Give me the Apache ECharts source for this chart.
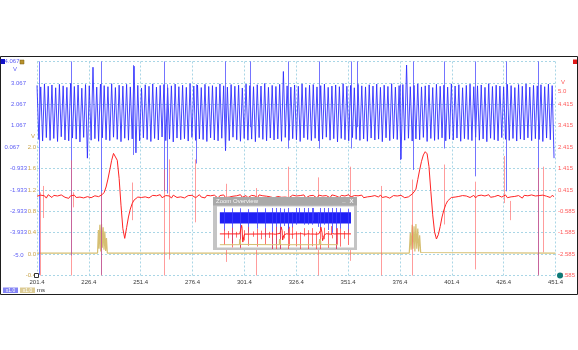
<!DOCTYPE html>
<html>
<head>
<meta charset="utf-8">
<script src="https://cdn.jsdelivr.net/npm/echarts@6/dist/echarts.min.js"></script>
<style>
  html, body { margin: 0; padding: 0; background: #ffffff; }
  #scope { width: 578px; height: 350px; }
</style>
</head>
<body>
<div id="scope"></div>
<script>
// ---- axis ticks ----
const xTicks = [201.4, 226.4, 251.4, 276.4, 301.4, 326.4, 351.4, 376.4, 401.4, 426.4, 451.4];
const blueTicks = [4.067, 3.067, 2.067, 1.067, 0.067, -0.933, -1.933, -2.933, -3.933, -5.0];
const yellowTicks = [2.0, 1.6, 1.2, 0.8, 0.4, 0.0, -0.4];
const redTicks = [5.0, 4.415, 3.415, 2.415, 1.415, 0.415, -0.585, -1.585, -2.585, -3.585];

// ---- capture sampling (ms) ----
const sampleStart = 201.4;
const sampleStep = 0.9;

// ---- channel A (blue): crest and trough of each cycle, V ----
const blueHi = [
  2.95,2.88,3.02,2.91,2.97,2.84,3.00,2.93,2.86,3.04,
  2.90,2.97,2.82,2.99,2.93,3.80,2.87,3.01,2.94,2.89,
  3.03,2.85,2.96,2.92,3.00,2.88,3.85,2.95,2.83,2.98,
  2.91,3.02,2.87,2.95,2.99,2.84,2.93,3.01,2.89,2.96,
  2.86,3.03,2.92,2.97,2.85,3.00,2.90,2.94,2.88,3.02,
  2.93,2.87,2.99,2.91,2.96,2.83,3.01,2.94,2.89,2.98,
  2.92,3.04,2.86,2.95,2.90,3.00,3.60,2.93,2.87,2.97,
  2.91,3.02,2.85,2.96,2.99,2.88,2.94,3.01,2.86,2.92,
  2.97,2.89,3.03,2.91,2.95,2.84,3.00,2.93,2.88,2.98,
  2.92,3.01,2.86,2.96,2.90,3.03,2.87,2.94,2.99,3.90,
  2.89,2.95,3.02,2.88,2.93,2.97,2.85,3.00,2.91,2.96,
  2.87,3.02,2.92,2.98,2.84,2.95,3.01,2.89,2.93,2.97,
  2.86,3.03,2.90,2.96,2.92,2.88,3.00,2.94,2.85,2.99,
  2.91,3.02,2.87,2.95,2.93,2.98,2.89,3.01,2.94
];
const blueLo = [
  0.42,0.35,0.51,0.38,0.47,0.33,0.55,0.40,0.36,0.49,
  0.44,0.31,0.52,-0.45,0.39,0.46,0.34,0.50,0.41,0.37,
  0.53,0.43,0.32,0.48,0.39,0.45,-0.20,0.36,0.50,0.42,
  0.33,0.47,0.40,0.54,0.37,0.44,0.31,0.49,0.41,0.46,
  0.35,0.52,0.38,0.45,0.42,0.33,0.50,0.40,0.36,0.48,
  -0.10,0.37,0.53,0.41,0.34,0.47,0.39,0.44,0.32,0.51,
  0.43,0.36,0.49,0.40,0.45,0.34,0.52,0.38,0.46,0.41,
  0.33,0.50,0.42,0.37,0.48,0.35,0.44,0.53,0.39,0.46,
  0.31,0.47,0.41,0.36,0.51,0.43,0.38,0.45,0.34,0.49,
  0.40,0.44,0.32,0.50,0.37,0.46,0.42,-0.50,0.39,0.48,
  0.35,0.45,0.41,0.52,0.33,0.47,0.38,0.43,0.50,0.36,
  0.44,0.40,0.49,0.34,0.46,0.42,0.37,0.53,0.39,0.45,
  0.32,0.48,0.41,0.36,0.51,0.43,0.38,0.47,0.35,0.44,
  0.40,0.50,0.37,0.46,0.42,0.33,0.49,0.41,-0.45
];
// channel A glitches: time (ms), low (V), high (V)
const blueSpikeT  = [202.6, 217.7, 232.1, 247.7, 262.7, 264.1, 278.0, 292.2, 303.9, 322.4, 337.4, 352.6, 355.5, 376.5, 382.9, 397.8, 412.6, 427.5, 442.8];
const blueSpikeLo = [-5.9, -5.0, -5.9, -0.3, -2.0, -2.1, -0.7, 0.0, 1.0, 0.0, 0.0, 0.0, 1.0, -0.54, -1.0, 0.0, -1.3, -2.0, -5.9];
const blueSpikeHi = [4.07, 4.07, 4.07, 3.9, 4.07, 3.0, 3.0, 4.07, 4.07, 4.07, 4.07, 4.07, 4.07, 3.0, 4.07, 4.07, 4.07, 4.07, 4.07];

// ---- channel B (red), V per sample ----
const redV = [
  0.12,0.05,0.17,0.08,0.14,0.03,0.19,0.10,0.06,0.16,0.09,0.13,0.04,0.18,0.11,0.07,0.15,0.02,0.14,0.09,
  0.17,0.06,0.12,0.08,0.16,0.04,0.13,0.10,0.18,0.05,0.11,0.14,0.07,
  0.10,0.14,0.20,0.30,0.55,0.92,1.35,1.80,2.12,2.18,1.80,0.95,-0.30,-1.40,-1.85,-1.35,-0.85,-0.48,-0.22,-0.06,0.02,0.08,
  0.15,0.06,0.13,0.09,0.17,0.04,0.12,0.16,0.07,0.14,0.10,0.19,0.05,0.11,0.15,0.08,0.13,0.03,0.17,0.10,
  0.06,0.14,0.09,0.18,0.04,0.12,0.15,0.07,0.16,0.11,0.05,0.13,0.19,0.08,0.12,0.04,0.16,0.10,0.14,0.07,
  0.17,0.09,0.03,0.15,0.11,0.18,0.06,0.13,0.08,0.16,0.12,0.04,0.14,0.10,0.19,0.07,0.12,0.15,0.05,0.11,
  0.16,0.08,0.13,0.03,0.18,0.10,0.14,0.06,0.12,0.17,0.09,0.15,0.04,0.13,0.11,0.19,0.07,0.14,0.08,0.16,
  0.05,0.12,0.17,0.10,0.13,0.06,0.15,0.09,0.18,0.04,0.11,0.14,0.08,0.16,0.12,0.03,0.17,0.10,0.13,0.07,
  0.15,0.11,0.05,0.18,0.09,0.14,0.12,0.06,0.16,0.10,0.13,0.04,0.19,0.08,0.12,0.15,0.07,0.14,0.10,0.17,
  0.05,0.13,0.09,0.16,0.11,0.04,0.15,0.12,0.08,0.18,0.06,0.14,0.10,0.17,0.03,0.12,0.15,0.09,0.13,0.07,0.16,0.11,0.05,0.14,0.09,
  0.12,0.22,0.32,0.45,0.90,1.35,1.75,2.05,2.20,2.10,1.50,0.35,-0.75,-1.55,-1.88,-1.68,-1.30,-0.85,-0.52,-0.27,-0.10,-0.02,0.06,
  0.14,0.08,0.17,0.11,0.05,0.15,0.09,0.13,0.18,0.06,0.12,0.16,0.04,0.14,0.10,0.17,0.08,0.13,0.11,0.19,
  0.07,0.15,0.10,0.04,0.16,0.12,0.08,0.14,0.18,0.05,0.13,0.09,0.17,0.11,0.06,0.15,0.12,0.03,0.16,0.10,
  0.14,0.07,0.18,0.09,0.13,0.05,0.15,0.11,0.17,0.08,0.12,0.14,0.06,0.16,0.10
];
// channel B glitches: time (ms), low (V), high (V)
const redSpikeT  = [202.7, 204.3, 217.7, 218.6, 232.2, 247.4, 262.7, 265.1, 277.5, 292.4, 307.2, 322.6, 337.0, 352.3, 367.1, 382.4, 397.8, 412.6, 426.5, 429.4, 442.8, 445.6];
const redSpikeLo = [-3.585, -0.9, -3.585, -0.4, -3.585, -1.0, -3.585, -2.84, -1.1, -2.95, -3.585, -0.5, -3.585, -2.9, -3.585, -3.585, -1.2, -3.3, -0.2, -1.0, -3.585, -2.5];
const redSpikeHi = [0.3, 0.6, 1.8, 0.3, 0.3, 0.76, 1.37, 1.84, 1.84, 0.7, 0.5, 1.5, 1.0, 1.5, 0.6, 0.9, 1.6, 0.8, 2.0, -0.1, 1.45, 1.5];

// ---- channel C (yellow) ----
const yellowT = [201.4,
  230.6,231.0,231.3,231.7,232.1,232.5,232.9,233.3,233.7,234.1,234.5,234.9,235.3,
  380.9,381.4,381.8,382.3,382.7,383.2,383.6,384.1,384.5,385.0,385.4,385.9,386.4,387.0,
  451.4];
const yellowV = [0.02,
  0.02,0.45,0.10,0.55,0.05,0.56,0.12,0.50,0.08,0.42,0.06,0.30,0.02,
  0.02,0.40,0.08,0.55,0.10,0.52,0.05,0.56,0.10,0.48,0.05,0.35,0.03,0.02,
  0.02];

// ---- overview: whole capture outside the zoomed window ----
const ovSpan = [0, 500];
const ovBlueBand = [7, 500, 0.3, 3.0];
const ovBlueSpikeT  = [23, 53, 84, 114, 145, 176, 458, 488];
const ovBlueSpikeLo = [-1.5, -4.5, -5.5, -2.0, -1.0, -3.0, -1.0, -2.0];
const ovBlueSpikeHi = [4.0, 4.0, 4.0, 3.8, 4.0, 4.0, 4.0, 3.9];
const ovRedEarlyT = [7, 81.5, 84.0, 86.5, 88.8, 90.5, 92.0, 93.2, 95.0, 97.0, 100.0, 201.0];
const ovRedEarlyV = [0.10, 0.10, 0.45, 1.40, 2.20, 1.50, -0.90, -1.90, -1.40, -0.50, 0.05, 0.10];
const ovRedLateT = [452.0, 500.0];
const ovRedLateV = [0.10, 0.10];
const ovRedSpikeT  = [22, 37, 53, 68, 84, 99, 114, 130, 145, 160, 176, 191, 458, 473, 488];
const ovRedSpikeLo = [-2.6, -1.0, -3.2, -0.8, -3.4, -1.5, -2.8, -0.6, -3.0, -1.2, -2.5, -0.9, -3.0, -1.1, -2.6];
const ovRedSpikeHi = [1.2, 0.8, 1.6, 0.6, 1.4, 1.0, 1.8, 0.7, 1.3, 0.9, 1.5, 0.6, 1.4, 0.8, 1.2];
const ovYellowEarlyT = [7, 80.5, 81.0, 81.5, 82.0, 82.5, 83.0, 83.5, 84.0, 84.5, 85.5, 201.0];
const ovYellowEarlyV = [0.02, 0.02, 0.45, 0.10, 0.55, 0.08, 0.50, 0.06, 0.40, 0.05, 0.02, 0.02];

// ---- build series tables ----
const blueData = [];
for (let k = 0; k < blueHi.length; k++) {
  blueData.push([sampleStart + 2 * k * sampleStep, blueHi[k]]);
  blueData.push([sampleStart + (2 * k + 1) * sampleStep, blueLo[k]]);
}
const redData = redV.map((v, i) => [sampleStart + i * sampleStep, v]);
const yellowData = yellowT.map((t, i) => [t, yellowV[i]]);
const zip3 = (a, b, c) => a.map((t, i) => [t, b[i], c[i]]);
const blueSpikes = zip3(blueSpikeT, blueSpikeLo, blueSpikeHi);
const redSpikes = zip3(redSpikeT, redSpikeLo, redSpikeHi);

const ovRedData = ovRedEarlyT.map((t, i) => [t, ovRedEarlyV[i]])
  .concat(redData, ovRedLateT.map((t, i) => [t, ovRedLateV[i]]));
const ovYellowData = ovYellowEarlyT.map((t, i) => [t, ovYellowEarlyV[i]]).concat(yellowData);
const ovBlueSpikes = zip3(ovBlueSpikeT, ovBlueSpikeLo, ovBlueSpikeHi).concat(blueSpikes);
const ovRedSpikes = zip3(ovRedSpikeT, ovRedSpikeLo, ovRedSpikeHi).concat(redSpikes);

const FONT = 'Liberation Sans';
const FS = 6;
const BLUE_TXT = '#5c5cf5';
const numText = v => (Number.isInteger(v) ? v.toFixed(1) : String(v));
// labels that sit beside a channel C label or the marker are nudged to the left
const blueLabel = v => {
  const s = numText(v);
  if (v === 0.067 || v === 4.067) return '{far|' + s + '}';
  return s;
};

function spikeRenderer(color) {
  return function (params, api) {
    const a = api.coord([api.value(0), api.value(1)]);
    const b = api.coord([api.value(0), api.value(2)]);
    const x = Math.round(a[0]) + 0.5;
    return {
      type: 'line',
      shape: { x1: x, y1: a[1], x2: x, y2: b[1] },
      style: { stroke: color, lineWidth: 1 }
    };
  };
}
function bandRenderer(color) {
  return function (params, api) {
    const a = api.coord([api.value(0), api.value(3)]);
    const b = api.coord([api.value(1), api.value(2)]);
    return {
      type: 'rect',
      shape: { x: a[0], y: a[1], width: b[0] - a[0], height: b[1] - a[1] },
      style: { fill: color }
    };
  };
}

const yBase = (grid, min, max, show) => ({
  type: 'value', gridIndex: grid, min: min, max: max,
  axisLine: { show: false }, axisTick: { show: false },
  splitLine: { show: false }, axisLabel: { show: show }
});

const chart = echarts.init(document.getElementById('scope'), null, { renderer: 'canvas' });

chart.setOption({
  animation: false,
  backgroundColor: '#ffffff',
  grid: [
    { left: 37, top: 61.5, width: 522, height: 214 },
    { left: 218, top: 208, width: 133, height: 41, z: 12 }
  ],
  xAxis: [
    {
      type: 'value', gridIndex: 0, min: xTicks[0], max: xTicks[xTicks.length - 1],
      axisLine: { show: false },
      axisTick: { show: false, customValues: xTicks },
      axisLabel: { customValues: xTicks, formatter: v => v.toFixed(1), color: '#3a3a3a',
        fontSize: FS, fontFamily: FONT, margin: 4 },
      splitLine: { show: true, lineStyle: { color: '#a9d6e6', type: [2, 2], width: 1 } }
    },
    {
      type: 'value', gridIndex: 1, min: ovSpan[0], max: ovSpan[1], show: false,
      splitLine: { show: false }
    }
  ],
  yAxis: [
    Object.assign(yBase(0, -5.933, 4.067, true), {
      position: 'left',
      axisLabel: { customValues: blueTicks, formatter: blueLabel, color: BLUE_TXT,
        fontSize: FS, fontFamily: FONT, margin: 18.5, align: 'center',
        rich: { far: { color: BLUE_TXT, fontSize: FS, fontFamily: FONT, padding: [0, 13, 0, 0] } } }
    }),
    Object.assign(yBase(0, -0.4, 3.6, true), {
      position: 'left', interval: 0.4,
      axisLabel: { customValues: yellowTicks, formatter: numText, color: '#c9a44a',
        fontSize: FS, fontFamily: FONT, margin: 1 },
      splitLine: { show: true, lineStyle: { color: '#a9d6e6', type: [2, 2], width: 1 } }
    }),
    Object.assign(yBase(0, -3.585, 6.415, true), {
      position: 'right',
      axisLabel: { customValues: redTicks, formatter: numText, color: '#ff5a5a',
        fontSize: FS, fontFamily: FONT, margin: 2.5 }
    }),
    Object.assign(yBase(1, -5.933, 4.067, false), { show: false }),
    Object.assign(yBase(1, -0.4, 3.6, false), { show: false }),
    Object.assign(yBase(1, -3.585, 6.415, false), { show: false })
  ],
  series: [
    // main view
    { name: 'C', type: 'line', xAxisIndex: 0, yAxisIndex: 1, data: yellowData, showSymbol: false,
      lineStyle: { color: '#d6bf72', width: 1.2 }, z: 2, silent: true },
    { name: 'A', type: 'line', xAxisIndex: 0, yAxisIndex: 0, data: blueData, showSymbol: false,
      lineStyle: { color: 'rgba(40,40,255,0.85)', width: 1 }, z: 3, silent: true },
    { name: 'A glitch', type: 'custom', xAxisIndex: 0, yAxisIndex: 0, data: blueSpikes,
      encode: { x: 0, y: [1, 2] }, renderItem: spikeRenderer('rgba(70,70,255,0.75)'), z: 4, silent: true },
    { name: 'B glitch', type: 'custom', xAxisIndex: 0, yAxisIndex: 2, data: redSpikes,
      encode: { x: 0, y: [1, 2] }, renderItem: spikeRenderer('rgba(255,90,90,0.6)'), z: 5, silent: true },
    { name: 'B', type: 'line', xAxisIndex: 0, yAxisIndex: 2, data: redData, showSymbol: false,
      lineStyle: { color: '#ff2424', width: 1 }, z: 6, silent: true },

    // overview
    { name: 'ov A', type: 'custom', xAxisIndex: 1, yAxisIndex: 3, data: [ovBlueBand],
      encode: { x: [0, 1], y: [2, 3] }, renderItem: bandRenderer('#1f1ff5'), z: 21, silent: true },
    { name: 'ov A glitch', type: 'custom', xAxisIndex: 1, yAxisIndex: 3, data: ovBlueSpikes,
      encode: { x: 0, y: [1, 2] }, renderItem: spikeRenderer('rgba(60,60,255,0.8)'), z: 22, silent: true },
    { name: 'ov B glitch', type: 'custom', xAxisIndex: 1, yAxisIndex: 5, data: ovRedSpikes,
      encode: { x: 0, y: [1, 2] }, renderItem: spikeRenderer('rgba(255,60,60,0.75)'), z: 23, silent: true },
    { name: 'ov B', type: 'line', xAxisIndex: 1, yAxisIndex: 5, data: ovRedData, showSymbol: false,
      lineStyle: { color: '#ff2020', width: 1 }, z: 24, silent: true },
    { name: 'ov C', type: 'line', xAxisIndex: 1, yAxisIndex: 4, data: ovYellowData, showSymbol: false,
      lineStyle: { color: '#d6bf72', width: 1 }, z: 25, silent: true,
      markArea: {
        silent: true,
        itemStyle: { color: 'rgba(0,0,0,0)', borderColor: '#8c8c8c', borderWidth: 1 },
        data: [[{ xAxis: xTicks[0] }, { xAxis: xTicks[xTicks.length - 1] }]]
      }
    }
  ],
  graphic: [
    // window frame
    { type: 'rect', z: 30, silent: true, shape: { x: 0.5, y: 56.5, width: 577, height: 238 },
      style: { fill: 'none', stroke: '#1e1e1e', lineWidth: 1 } },
    // channel markers
    { type: 'rect', z: 31, shape: { x: 0.5, y: 59, width: 4.5, height: 5 }, style: { fill: '#1212c8' } },
    { type: 'rect', z: 31, shape: { x: 20, y: 60, width: 4, height: 4 }, style: { fill: '#b8912c', stroke: '#7a5c12', lineWidth: 0.5 } },
    { type: 'rect', z: 31, shape: { x: 573, y: 59.5, width: 4, height: 4.5 }, style: { fill: '#e01818' } },
    { type: 'circle', z: 31, shape: { cx: 560, cy: 275.5, r: 3 }, style: { fill: '#0d7a78' } },
    { type: 'rect', z: 31, shape: { x: 34.5, y: 273.5, width: 4, height: 4 }, style: { fill: '#ffffff', stroke: '#333333', lineWidth: 1 } },
    // unit labels
    { type: 'text', z: 31, style: { x: 15, y: 69.5, text: 'V', fill: BLUE_TXT, font: FS + 'px ' + FONT, align: 'center', verticalAlign: 'middle' } },
    { type: 'text', z: 31, style: { x: 33, y: 136, text: 'V', fill: '#c9a44a', font: FS + 'px ' + FONT, align: 'center', verticalAlign: 'middle' } },
    { type: 'text', z: 31, style: { x: 563, y: 82, text: 'V', fill: '#ff5a5a', font: FS + 'px ' + FONT, align: 'center', verticalAlign: 'middle' } },
    // scale chips and time unit
    { type: 'rect', z: 31, shape: { x: 3, y: 287.5, width: 15, height: 5.5 }, style: { fill: '#8484f4' } },
    { type: 'text', z: 32, style: { x: 10.5, y: 290.3, text: 'x1.0', fill: '#ffffff', font: '5px ' + FONT, align: 'center', verticalAlign: 'middle' } },
    { type: 'rect', z: 31, shape: { x: 20, y: 287.5, width: 15, height: 5.5 }, style: { fill: '#dccb94' } },
    { type: 'text', z: 32, style: { x: 27.5, y: 290.3, text: 'x1.0', fill: '#ffffff', font: '5px ' + FONT, align: 'center', verticalAlign: 'middle' } },
    { type: 'text', z: 31, style: { x: 37, y: 290.3, text: 'ms', fill: '#333333', font: FS + 'px ' + FONT, align: 'left', verticalAlign: 'middle' } },
    // overview window
    { type: 'rect', z: 10, shape: { x: 213, y: 197, width: 144, height: 53 }, style: { fill: '#c4c4c4' } },
    { type: 'rect', z: 11, shape: { x: 213, y: 197, width: 144, height: 8.5 }, style: { fill: '#a9a9a9' } },
    { type: 'text', z: 12, style: { x: 216, y: 201.3, text: 'Zoom Overview', fill: '#f4f4f4', font: '6px ' + FONT, align: 'left', verticalAlign: 'middle' } },
    { type: 'text', z: 12, style: { x: 344, y: 200.5, text: '_', fill: '#f4f4f4', font: 'bold 6px ' + FONT, align: 'center', verticalAlign: 'middle' } },
    { type: 'text', z: 12, style: { x: 351.5, y: 201.3, text: 'X', fill: '#f4f4f4', font: 'bold 6px ' + FONT, align: 'center', verticalAlign: 'middle' } },
    { type: 'rect', z: 11, shape: { x: 217, y: 206.5, width: 137, height: 41 }, style: { fill: '#ffffff' } }
  ]
});
</script>
</body>
</html>
